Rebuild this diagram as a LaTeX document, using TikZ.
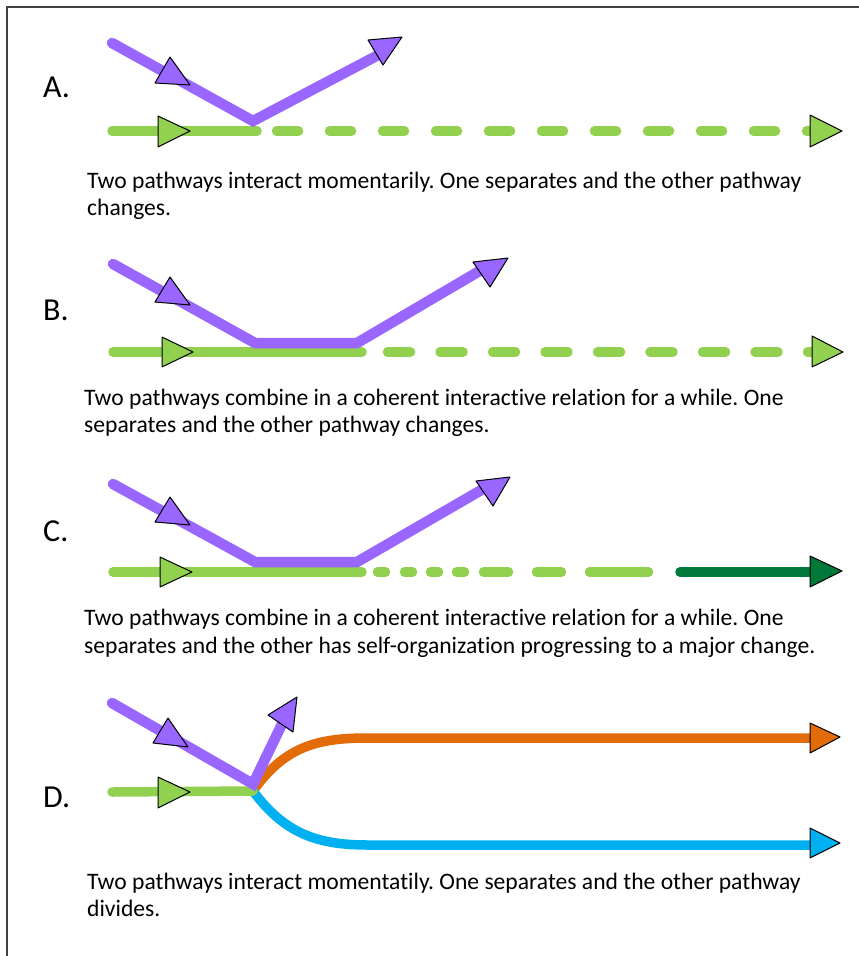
\documentclass[tikz,border=0pt]{standalone}
\usepackage{fontspec}
\setmainfont{Carlito}[Ligatures=NoCommon]
\frenchspacing
\definecolor{lgreen}{HTML}{92D050}
\definecolor{dgreen}{HTML}{00783A}
\definecolor{purp}{HTML}{9966FF}
\definecolor{orng}{HTML}{E36C0A}
\definecolor{blu}{HTML}{00B0F0}
\definecolor{framecol}{HTML}{404040}
\tikzset{
  pathline/.style={line width=9.5pt, line cap=round, line join=round},
  gpath/.style={pathline, draw=lgreen},
  ppath/.style={pathline, draw=purp, line width=10.5pt, line join=miter},
  headtri/.style={draw=black, line width=1pt, line join=round},
  captext/.style={anchor=base west, inner sep=0pt, font=\fontsize{23.6}{28}\selectfont},
  lettertext/.style={anchor=base west, inner sep=0pt, font=\fontsize{32}{36}\selectfont},
}
\begin{document}
\begin{tikzpicture}[x=1pt,y=-1pt]
\useasboundingbox (0,0) rectangle (859,956);
\fill[white] (0,0) rectangle (859,956);
\draw[framecol, line width=2pt] (7,956) -- (7,7) -- (859,7);

% ---------- A ----------
\node[lettertext] (LA) at (43,97) {A.};
\coordinate (a1) at (112,43);
\coordinate (a2) at (253,121);
\coordinate (a3) at (384,52);
\coordinate (ag0) at (112,131);
\coordinate (ag1) at (257,131);
\coordinate (ag2) at (276.5,131);
\coordinate (ag3) at (815,131);
\draw[gpath] (ag0) -- (ag1);
\draw[gpath, dash pattern=on 22pt off 31pt] (ag2) -- (ag3);
\draw[ppath] (a1) -- (a2) -- (a3);
\filldraw[headtri, fill=purp] (170,57) -- (155,83) -- (190,85) -- cycle;
\filldraw[headtri, fill=purp] (368,40) -- (402,37) -- (383,65) -- cycle;
\filldraw[headtri, fill=lgreen] (158,116) -- (190,131) -- (158,147) -- cycle;
\filldraw[headtri, fill=lgreen] (810,115) -- (842,131) -- (810,147) -- cycle;
\node[captext] (ta1) at (87,188) {Two pathways interact momentarily. One separates and the other pathway};
\node[captext] (ta2) at (87,215) {changes.};

% ---------- B ----------
\node[lettertext] (LB) at (43,320) {B.};
\coordinate (b1) at (113,264);
\coordinate (b2) at (255,343);
\coordinate (b3) at (357,343);
\coordinate (b4) at (488,266);
\coordinate (bg0) at (113,352);
\coordinate (bg1) at (362,352);
\coordinate (bg2) at (387.5,352);
\coordinate (bg3) at (815,352);
\draw[gpath] (bg0) -- (bg1);
\draw[gpath, dash pattern=on 23pt off 29.5pt] (bg2) -- (bg3);
\draw[ppath] (b1) -- (b2) -- (b3) -- (b4);
\filldraw[headtri, fill=purp] (170,277) -- (155,302) -- (190,305) -- cycle;
\filldraw[headtri, fill=purp] (473,262) -- (508,258) -- (490,287) -- cycle;
\filldraw[headtri, fill=lgreen] (162,337) -- (193,352) -- (162,367) -- cycle;
\filldraw[headtri, fill=lgreen] (812,336) -- (843,352) -- (812,367) -- cycle;
\node[captext] (tb1) at (84,405) {Two pathways combine in a coherent interactive relation for a while. One};
\node[captext] (tb2) at (84,432) {separates and the other pathway changes.};

% ---------- C ----------
\node[lettertext] (LC) at (43,541) {C.};
\coordinate (c1) at (113,484);
\coordinate (c2) at (255,562);
\coordinate (c3) at (357,562);
\coordinate (c4) at (490,485);
\coordinate (cg0) at (113,572);
\coordinate (cg1) at (362,572);
\draw[gpath] (cg0) -- (cg1);
\foreach \s/\e in {377.5/385.5, 404.5/412.5, 430.5/438.5, 456.5/464.5, 483.5/508.5, 536.5/561.5, 589.5/648.5}{
  \draw[gpath] (\s,572) -- (\e,572);
}
\coordinate (cd0) at (680,572);
\coordinate (cd1) at (815,572);
\draw[pathline, draw=dgreen] (cd0) -- (cd1);
\draw[ppath] (c1) -- (c2) -- (c3) -- (c4);
\filldraw[headtri, fill=purp] (170,497) -- (155,522) -- (190,525) -- cycle;
\filldraw[headtri, fill=purp] (476,481) -- (510,477) -- (493,506) -- cycle;
\filldraw[headtri, fill=lgreen] (160,557) -- (192,572) -- (160,587) -- cycle;
\filldraw[headtri, fill=dgreen] (810,556) -- (842,571) -- (810,587) -- cycle;
\node[captext] (tc1) at (84,625) {Two pathways combine in a coherent interactive relation for a while. One};
\node[captext] (tc2) at (84,653) {separates and the other has self-organization progressing to a major change.};

% ---------- D ----------
\node[lettertext] (LD) at (43,807) {D.};
\coordinate (d1) at (112,703);
\coordinate (d2) at (253,784);
\coordinate (d3) at (283,722);
\coordinate (dj) at (253,791);
\coordinate (do1) at (368,738);
\coordinate (do2) at (815,738);
\coordinate (db1) at (368,845);
\coordinate (db2) at (815,845);
\coordinate (dg0) at (112,792);
\draw[pathline, draw=orng] (dj) .. controls (285,746) and (318,738) .. (do1) -- (do2);
\draw[pathline, draw=blu] (dj) .. controls (285,834) and (318,845) .. (db1) -- (db2);
\draw[gpath] (dg0) -- (dj);
\draw[ppath] (d1) -- (d2) -- (d3);
\filldraw[headtri, fill=purp] (168,718) -- (153,743) -- (188,747) -- cycle;
\filldraw[headtri, fill=purp] (268,715) -- (297,697) -- (293,732) -- cycle;
\filldraw[headtri, fill=lgreen] (158,777) -- (190,792) -- (158,808) -- cycle;
\filldraw[headtri, fill=orng] (810,723) -- (840,737) -- (810,753) -- cycle;
\filldraw[headtri, fill=blu] (810,828) -- (840,843) -- (810,858) -- cycle;
\node[captext] (td1) at (87,889) {Two pathways interact momentatily. One separates and the other pathway};
\node[captext] (td2) at (87,916) {divides.};
\end{tikzpicture}
\end{document}
